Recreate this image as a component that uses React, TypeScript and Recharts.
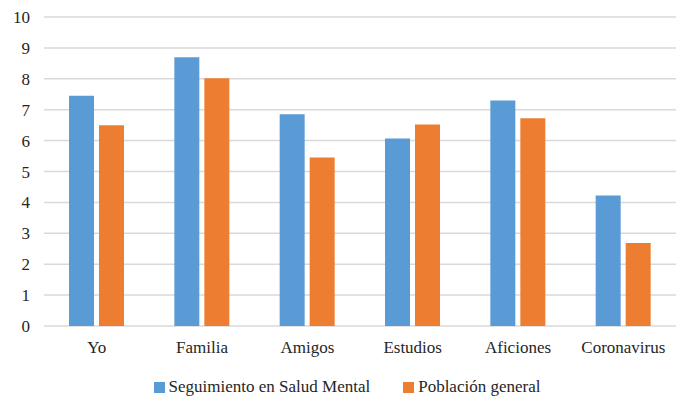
import { BarChart, Bar, XAxis, YAxis, CartesianGrid, Legend } from 'recharts'

const categories = ['Yo', 'Familia', 'Amigos', 'Estudios', 'Aficiones', 'Coronavirus']
const saludMental = [7.45, 8.7, 6.85, 6.07, 7.3, 4.22]
const poblacion = [6.5, 8.02, 5.45, 6.52, 6.72, 2.69]
const yTicks = [0, 1, 2, 3, 4, 5, 6, 7, 8, 9, 10]

const BLUE = '#5B9BD5'
const ORANGE = '#ED7D31'
const FONT = 'Liberation Serif, DejaVu Serif, serif'

const data = categories.map((name, i) => ({
  name,
  salud: saludMental[i],
  poblacion: poblacion[i],
}))

function LegendBox() {
  const item = (color: string, label: string) => (
    <div style={{ display: 'flex', alignItems: 'center', marginRight: 33 }}>
      <span style={{ width: 11, height: 11, background: color, marginRight: 4, display: 'inline-block' }} />
      <span>{label}</span>
    </div>
  )
  return (
    <div
      style={{
        display: 'flex',
        justifyContent: 'center',
        fontFamily: FONT,
        fontSize: 17,
        lineHeight: '20px',
        color: '#262626',
        paddingLeft: 46,
      }}
    >
      {item(BLUE, 'Seguimiento en Salud Mental')}
      {item(ORANGE, 'Población general')}
    </div>
  )
}

export default function App() {
  return (
    <div style={{ position: 'absolute', top: 0, left: 0, width: 681, height: 397, background: '#fff', fontFamily: FONT }}>
      <BarChart
        width={681}
        height={397}
        data={data}
        margin={{ top: 17, right: 5, left: 0, bottom: 9 }}
        barSize={25}
        barGap={5}
        style={{ fontFamily: FONT }}
      >
        <CartesianGrid vertical={false} stroke="#d9d9d9" strokeWidth={1.5} />
        <XAxis
          dataKey="name"
          axisLine={false}
          tickLine={false}
          tickMargin={9}
          height={42}
          tick={{ fill: '#262626', fontSize: 17, fontFamily: FONT }}
        />
        <YAxis
          domain={[0, 10]}
          ticks={yTicks}
          axisLine={false}
          tickLine={false}
          tickMargin={8}
          width={44}
          tick={{ fill: '#262626', fontSize: 17, fontFamily: FONT }}
        />
        <Legend
          content={<LegendBox />}
          wrapperStyle={{ position: 'absolute', top: 377, left: 0, width: 681 }}
        />
        <Bar dataKey="salud" name="Seguimiento en Salud Mental" fill={BLUE} isAnimationActive={false} />
        <Bar dataKey="poblacion" name="Población general" fill={ORANGE} isAnimationActive={false} />
      </BarChart>
    </div>
  )
}
